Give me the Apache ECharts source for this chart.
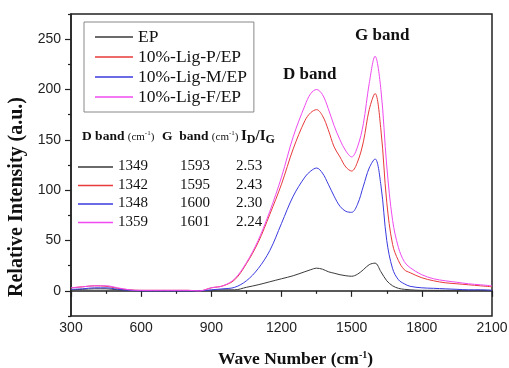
<!DOCTYPE html>
<html>
<head>
<meta charset="utf-8">
<script src="https://cdn.jsdelivr.net/npm/echarts@6/dist/echarts.min.js"></script>
<style>
  html, body { margin: 0; padding: 0; background: #fff; }
  #chart { width: 509px; height: 368px; }
</style>
</head>
<body>
<div id="chart"></div>
<script>
// wave numbers (cm-1) shared by all spectra
const waveNumbers = [300, 350, 400, 450, 500, 550, 600, 650, 700, 750, 800, 850, 900, 950,
  1000, 1050, 1100, 1150, 1200, 1250, 1300, 1325, 1350, 1375, 1400, 1425, 1450, 1475, 1500,
  1525, 1550, 1575, 1600, 1625, 1650, 1675, 1700, 1725, 1750, 1800, 1850, 1900, 1950, 2000,
  2050, 2100];

const epValues = [1, 1.5, 2, 2, 1, 0.5, 0, 0, 0, 0, 0, 0, 0.5, 1,
  1, 3.5, 6, 9, 12, 15, 19, 21, 22.5, 21.5, 19, 17.5, 16, 15, 14.5,
  16.5, 21, 26, 27.5, 19, 10, 5, 2.5, 1.5, 1, 0.5, 0.5, 0.5, 0.5, 0.5,
  0.5, 0.5];

const ligPValues = [3, 4, 5, 4.5, 2.5, 1, 0.5, 0.5, 0.5, 0.5, 0.5, 0, 3, 5,
  11, 27, 48, 76, 106, 141, 169, 177, 180, 174, 160, 143, 133, 123, 119,
  128, 148, 180, 196, 160, 88, 46, 30, 21, 18, 13, 10, 8, 7, 6,
  5, 4];

const ligMValues = [1.5, 2, 3, 3, 1.5, 0.5, 0, 0, 0, 0, 0, 0, 1, 2,
  3.5, 10, 22, 40, 67, 94, 113, 119, 122, 117, 106, 94, 84, 79, 78,
  86, 104, 122, 131, 105, 50, 22, 11, 7, 4.5, 3, 2.5, 2, 1.5, 1,
  1, 0.5];

const ligFValues = [3, 4, 5, 5, 3, 1, 0.5, 0.5, 0.5, 0.5, 0.5, 0, 3, 5,
  12, 28, 50, 79, 113, 153, 184, 196, 200, 195, 181, 164, 150, 139, 133,
  143, 166, 206, 233, 200, 124, 70, 43, 29, 23, 16, 12, 10, 8.5, 7,
  6, 5];

const seriesNames = ["EP", "10%-Lig-P/EP", "10%-Lig-M/EP", "10%-Lig-F/EP"];
const seriesColors = ["#3a3a3a", "#e83a3a", "#3a3ae0", "#f04af0"];

// table of band positions
const dBand = [1349, 1342, 1348, 1359];
const gBand = [1593, 1595, 1600, 1601];
const ratioDG = ["2.53", "2.43", "2.30", "2.24"];

const yLabels = [0, 50, 100, 150, 200, 250];
const yMinor = [-25, 25, 75, 125, 175, 225, 275];

const serif = "'Liberation Serif', 'Times New Roman', serif";
const sans = "'Liberation Sans', Arial, sans-serif";

const chart = echarts.init(document.getElementById("chart"));

const allValues = [epValues, ligPValues, ligMValues, ligFValues];

const series = allValues.map((vals, i) => ({
  name: seriesNames[i],
  type: "line",
  data: waveNumbers.map((w, k) => [w, vals[k]]),
  smooth: 0.35,
  symbol: "none",
  lineStyle: { width: 1, color: seriesColors[i] },
  itemStyle: { color: seriesColors[i] },
  z: 2 + i,
}));

// table graphics
const rowY = [167, 185.5, 204, 222.5];
const headRich = {
  b: { font: "bold 13.5px " + serif, fill: "#111" },
  s: { font: "11px " + serif, fill: "#111" },
  sup: { font: "7px " + serif, fill: "#111", verticalAlign: "top", padding: [0, 0, 6, 0] },
};
const tableGraphics = [
  {
    type: "text", left: 82, top: 130,
    style: { text: "{b|D band} {s|(cm}{sup|-1}{s|)}", rich: headRich },
  },
  {
    type: "text", left: 162, top: 130,
    style: { text: "{b|G  band} {s|(cm}{sup|-1}{s|)}", rich: headRich },
  },
  {
    type: "text", left: 241, top: 129,
    style: {
      text: "{b|I}{sub|D}{b|/I}{sub|G}",
      rich: {
        b: { font: "bold 15px " + serif, fill: "#111" },
        sub: { font: "bold 12px " + serif, fill: "#111", padding: [6, 0, 0, 0] },
      },
    },
  },
];
rowY.forEach((y, i) => {
  tableGraphics.push({
    type: "line",
    shape: { x1: 78, y1: y, x2: 113, y2: y },
    style: { stroke: seriesColors[i], lineWidth: 1.5 },
  });
  [[118, dBand[i]], [180, gBand[i]], [236, ratioDG[i]]].forEach(([x, t]) => {
    tableGraphics.push({
      type: "text", left: x, top: y - 8,
      style: { text: String(t), font: "15px " + serif, fill: "#111" },
    });
  });
});

const option = {
  animation: false,
  backgroundColor: "#fff",
  grid: {
    left: 71, right: 17, top: 14, bottom: 52,
    outerBoundsMode: "none",
    containLabel: false,
    show: true, borderColor: "#222", borderWidth: 1.5,
  },
  legend: {
    orient: "vertical",
    left: 84, top: 22,
    data: seriesNames,
    icon: "rect",
    itemWidth: 38, itemHeight: 1.5, itemGap: 2,
    padding: [6, 7, 6, 11],
    borderColor: "#888", borderWidth: 1,
    backgroundColor: "#fff",
    textStyle: { fontFamily: serif, fontSize: 17.5, color: "#111", lineHeight: 18 },
  },
  xAxis: {
    type: "value",
    min: 300, max: 2100, interval: 300,
    name: "{b|Wave Number (cm}{sup|-1}{b|)}",
    nameLocation: "middle",
    nameGap: 34,
    nameTextStyle: {
      padding: [0, 0, 0, 28],
      rich: {
        b: { fontFamily: serif, fontWeight: "bold", fontSize: 17.5, color: "#111" },
        sup: { fontFamily: serif, fontWeight: "bold", fontSize: 10, color: "#111", verticalAlign: "top", padding: [0, 0, 8, 0] },
      },
    },
    axisLine: { lineStyle: { color: "#222", width: 1.5 } },
    axisTick: { length: 6, lineStyle: { color: "#222", width: 1.2 } },
    minorTick: { show: true, splitNumber: 2, length: 3, lineStyle: { color: "#222", width: 1.2 } },
    axisLabel: {
      margin: 5, fontFamily: sans, fontSize: 14, color: "#222",
      formatter: (v) => String(v),
    },
    splitLine: { show: false },
  },
  yAxis: [
    {
      type: "value",
      min: -25, max: 275, interval: 25,
      name: "Relative Intensity (a.u.)",
      nameLocation: "middle",
      nameGap: 41,
      nameTextStyle: {
        fontFamily: serif, fontWeight: "bold", fontSize: 20, color: "#111",
        padding: [0, 64, 0, 0],
      },
      axisLine: { lineStyle: { color: "#222", width: 1.5 } },
      axisTick: { customValues: yLabels, length: 6, lineStyle: { color: "#222", width: 1.2 } },
      axisLabel: {
        customValues: yLabels,
        margin: 10, fontFamily: sans, fontSize: 14, color: "#222",
      },
      splitLine: { show: false },
    },
    {
      type: "value",
      position: "left",
      min: -25, max: 275, interval: 25,
      axisLine: { show: false },
      axisTick: { customValues: yMinor, length: 3, lineStyle: { color: "#222", width: 1.2 } },
      axisLabel: { show: false },
      splitLine: { show: false },
    },
  ],
  graphic: [
    {
      type: "text", left: 283, top: 66,
      style: { text: "D band", font: "bold 17px " + serif, fill: "#111" },
    },
    {
      type: "text", left: 355, top: 27,
      style: { text: "G band", font: "bold 17px " + serif, fill: "#111" },
    },
    ...tableGraphics,
  ],
  series: series,
};

chart.setOption(option);
</script>
</body>
</html>
